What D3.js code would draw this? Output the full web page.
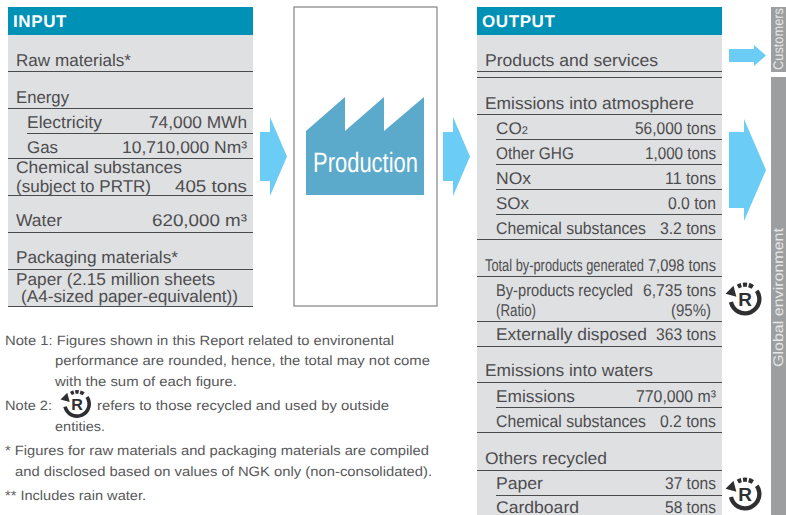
<!DOCTYPE html>
<meta charset="utf-8">
<style>
body { margin: 0; background: #fff; }
svg { display: block; }
text { font-family: "Liberation Sans", Arial, sans-serif; fill: #4d4d4f; text-rendering: geometricPrecision; }
</style>
<script src="https://cdnjs.cloudflare.com/ajax/libs/d3/7.8.5/d3.min.js"></script>
<body>
<script>

// text content
var inputLabels = ["Raw materials*", "Energy", "Electricity", "Gas", "Chemical substances", "(subject to PRTR)", "Water", "Packaging materials*", "Paper (2.15 million sheets", "(A4-sized paper-equivalent))"];
var inputValues = ["", "", "74,000 MWh", "10,710,000 Nm³", "", "405  tons", "620,000 m³", "", "", ""];

var outputLabels = ["Products and services", "Emissions into atmosphere", "CO", "Other GHG", "NOx", "SOx", "Chemical substances", "Total by-products generated", "By-products recycled", "(Ratio)", "Externally disposed", "Emissions into waters", "Emissions", "Chemical substances", "Others recycled", "Paper", "Cardboard"];
var outputValues = ["", "", "56,000 tons", "1,000 tons", "11 tons", "0.0 ton", "3.2 tons", "7,098 tons", "6,735 tons", "(95%)", "363 tons", "", "770,000 m³", "0.2 tons", "", "37 tons", "58 tons"];

var notes = [
  "Note 1: Figures shown in this Report related to environental",
  "performance are rounded, hence, the total may not come",
  "with the sum of each figure.",
  "Note 2:",
  "refers to those recycled and used by outside",
  "entities.",
  "* Figures for raw materials and packaging materials are compiled",
  "and disclosed based on values of NGK only (non-consolidated).",
  "** Includes rain water."
];

// layout, in the same order as the text above
var inputBase = [66, 103, 128, 153, 173, 192, 226, 263, 285, 302];
var inputX = [16, 16, 27, 27, 16, 16, 16, 16, 16, 21];
var inputLabelW = [115, 53, 75, 31, 166, 135, 46, 162, 199, 217];
var inputValueW = [0, 0, 98, 125, 0, 72, 95, 0, 0, 0];
var inputRules = [[71, 8], [108, 8], [133, 27], [158, 8], [195, 8], [232, 8], [269, 8], [306, 8]];

var outputBase = [66, 109, 134, 159, 184, 209, 234, 271, 296, 316, 340, 376, 402, 427, 464, 489, 513];
var outputX = [485, 485, 496, 496, 496, 496, 496, 485, 496, 496, 496, 485, 496, 496, 485, 496, 496];
var outputLabelW = [173, 209, 32, 78, 35, 33, 150, 159, 137, 40, 151, 168, 79, 150, 122, 47, 83];
var outputValueW = [0, 0, 81, 71, 51, 48, 56, 68, 73, 40, 60, 0, 80, 56, 0, 51, 51];
var outputRules = [[71, 477], [77, 477], [114, 477], [139, 496], [164, 496], [189, 496], [214, 496], [239, 477], [276, 477], [321, 477], [346, 477], [382, 477], [407, 496], [432, 477], [470, 477], [495, 496]];

var noteBase = [345, 365, 386, 410, 410, 431, 455, 476, 500];
var noteX = [5, 55, 55, 5, 97, 55, 5, 15, 5];
var noteW = [389, 375, 182, 47, 292, 50, 424, 417, 141];

var arrows = [
  [260, 270, 287, 117, 132, 156.5, 181, 196],
  [443, 453, 470, 117, 132, 156.5, 181, 196],
  [729, 754, 766, 45, 49, 55.5, 62, 66],
  [729, 744, 766, 119, 132, 170, 208, 221]
];

var svg = d3.select("body").append("svg").attr("width", 786).attr("height", 515);

function panel(x, h, title) {
  svg.append("rect").attr("x", x).attr("y", 35).attr("width", 245).attr("height", h).attr("fill", "#dfe0e2");
  svg.append("rect").attr("x", x).attr("y", 7).attr("width", 245).attr("height", 28).attr("fill", "#0091b7");
  svg.append("text").attr("x", x + 5).attr("y", 27).text(title)
    .style("fill", "#fff").attr("font-size", 17).attr("font-weight", "bold").attr("letter-spacing", 0.6);
}

function rows(labels, values, base, xs, labelW, valueW, right) {
  var g = svg.append("g").attr("font-size", 17);
  labels.forEach(function(d, i) {
    var t = g.append("text").attr("x", xs[i]).attr("y", base[i]).attr("textLength", labelW[i]).attr("lengthAdjust", "spacingAndGlyphs").text(d);
    if (d == "CO") {
      t.append("tspan").attr("font-size", 11).text("2");
    }
    if (values[i]) {
      var end = values[i] == "(95%)" ? right - 5 : right;
      g.append("text").attr("x", end - valueW[i]).attr("y", base[i]).attr("textLength", valueW[i]).attr("lengthAdjust", "spacingAndGlyphs").text(values[i]);
    }
  });
}

function rules(list, right) {
  svg.append("g").selectAll("line").data(list).enter().append("line")
    .attr("x1", function(d) { return d[1]; })
    .attr("x2", right)
    .attr("y1", function(d) { return d[0] + 0.5; })
    .attr("y2", function(d) { return d[0] + 0.5; })
    .attr("stroke", "#4a4b4d").attr("stroke-width", 1);
}

panel(8, 272, "INPUT");
panel(477, 480, "OUTPUT");
rows(inputLabels, inputValues, inputBase, inputX, inputLabelW, inputValueW, 247);
rows(outputLabels, outputValues, outputBase, outputX, outputLabelW, outputValueW, 716);
rules(inputRules, 253);
rules(outputRules, 722);

// production box and factory
svg.append("rect").attr("x", 294).attr("y", 7).attr("width", 143).attr("height", 299)
  .attr("fill", "#fff").attr("stroke", "#808285").attr("stroke-width", 1.2);
var factory = d3.path();
factory.moveTo(306, 195);
factory.lineTo(306, 131);
factory.lineTo(345, 97);
factory.lineTo(345, 131);
factory.lineTo(384, 97);
factory.lineTo(384, 131);
factory.lineTo(424, 97);
factory.lineTo(424, 195);
factory.closePath();
svg.append("path").attr("d", factory.toString()).attr("fill", "#5ba9cb");
svg.append("text").attr("x", 313).attr("y", 172).attr("font-size", 28).attr("textLength", 105)
  .attr("lengthAdjust", "spacingAndGlyphs").style("fill", "#fff").text("Production");

// arrows
svg.append("g").selectAll("path").data(arrows).enter().append("path")
  .attr("d", function(d) {
    return d3.line()([[d[0], d[4]], [d[1], d[4]], [d[1], d[3]], [d[2], d[5]], [d[1], d[7]], [d[1], d[6]], [d[0], d[6]]]) + "Z";
  })
  .attr("fill", "#6bcdf6");

// side bars
svg.append("rect").attr("x", 771).attr("y", 7).attr("width", 15).attr("height", 65).attr("fill", "#9d9ea0");
svg.append("rect").attr("x", 771).attr("y", 77).attr("width", 15).attr("height", 438).attr("fill", "#9d9ea0");
svg.append("text").attr("transform", "translate(783,70) rotate(-90)").attr("font-size", 14)
  .attr("textLength", 62).attr("lengthAdjust", "spacingAndGlyphs").style("fill", "#e6e6e6").text("Customers");
svg.append("text").attr("transform", "translate(783,367) rotate(-90)").attr("font-size", 14)
  .attr("textLength", 139).attr("lengthAdjust", "spacingAndGlyphs").style("fill", "#e6e6e6").text("Global environment");

// notes
svg.append("g").selectAll("text").data(notes).enter().append("text")
  .attr("x", function(d, i) { return noteX[i]; })
  .attr("y", function(d, i) { return noteBase[i]; })
  .attr("textLength", function(d, i) { return noteW[i]; })
  .attr("lengthAdjust", "spacingAndGlyphs")
  .attr("font-size", 13.5)
  .style("fill", "#58595b")
  .text(function(d) { return d; });

// recycled mark
function recycled(cx, cy, r) {
  var g = svg.append("g").attr("transform", "translate(" + cx + "," + cy + ")");
  var deg = Math.PI / 180;
  var arc = d3.arc().innerRadius(r * 0.74).outerRadius(r);
  g.append("path").attr("d", arc({ startAngle: 55 * deg, endAngle: 258 * deg })).attr("fill", "#2f2f31");
  [[-30, -15], [-8, 8], [15, 33]].forEach(function(a) {
    g.append("path").attr("d", arc({ startAngle: a[0] * deg, endAngle: a[1] * deg })).attr("fill", "#2f2f31");
  });
  g.append("path")
    .attr("d", d3.symbol(d3.symbolTriangle, r * r * 0.2)())
    .attr("transform", "translate(" + (-r * 0.8) + "," + (-r * 0.42) + ") rotate(-105)")
    .attr("fill", "#2f2f31");
  g.append("text").attr("text-anchor", "middle").attr("y", r * 0.42).attr("font-size", r * 1.15).attr("font-weight", "bold")
    .style("fill", "#2f2f31").text("R");
}
recycled(745, 299, 16.5);
recycled(745, 494, 16.5);
recycled(77, 404, 14);

</script>
</body>
